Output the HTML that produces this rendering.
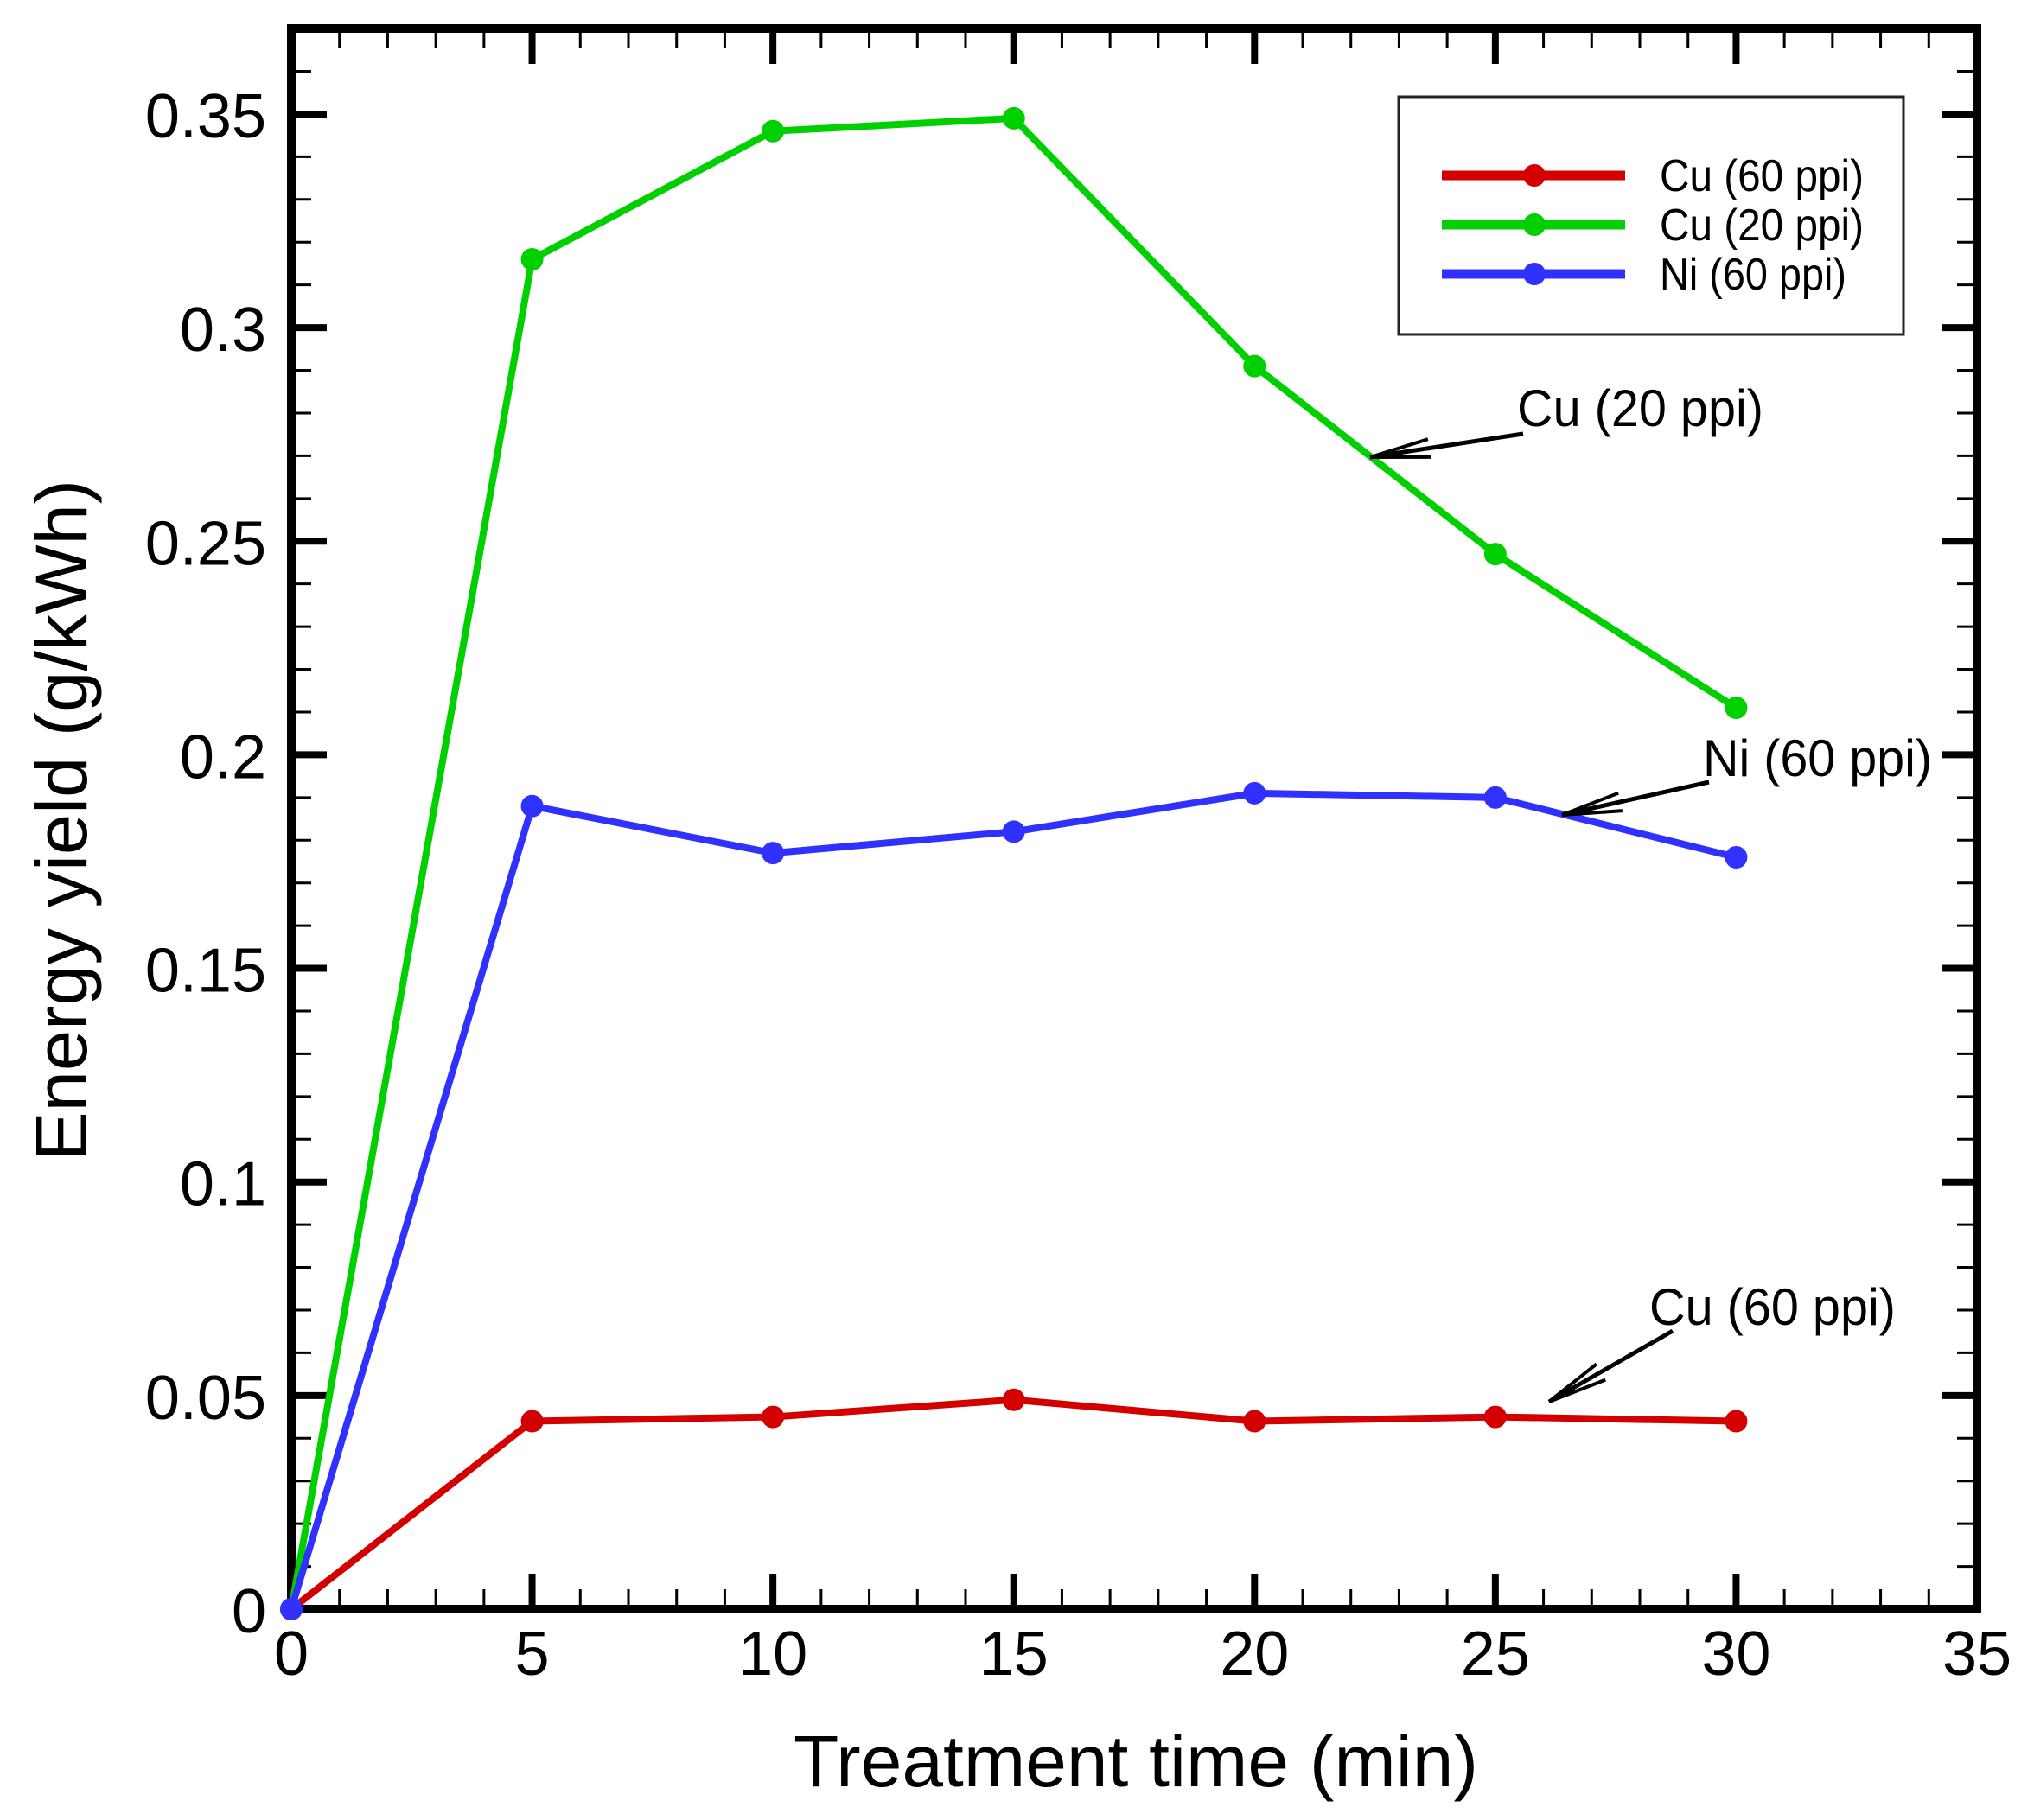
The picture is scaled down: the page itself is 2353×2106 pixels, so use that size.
<!DOCTYPE html>
<html><head><meta charset="utf-8"><style>
html,body{margin:0;padding:0;background:#fff;}
svg{display:block;}
text{font-family:"Liberation Sans",Arial,sans-serif;fill:#000;}
</style></head><body>
<svg id="chart" width="2353" height="2106" viewBox="0 0 2353 2106" xmlns="http://www.w3.org/2000/svg">
</svg>
<script>
const categories = [0, 5, 10, 15, 20, 25, 30];
const cu60 = [0, 0.044, 0.045, 0.049, 0.044, 0.045, 0.044];
const cu20 = [0, 0.316, 0.346, 0.349, 0.291, 0.247, 0.211];
const ni60 = [0, 0.188, 0.177, 0.182, 0.191, 0.190, 0.176];
const xTicks = [0, 5, 10, 15, 20, 25, 30, 35];
const yTicks = [0, 0.05, 0.1, 0.15, 0.2, 0.25, 0.3, 0.35];
const yTickLabels = ["0", "0.05", "0.1", "0.15", "0.2", "0.25", "0.3", "0.35"];

const NS = "http://www.w3.org/2000/svg";
const svg = document.getElementById('chart');
const L = 337, R = 2287, B = 1862, T = 33;
const xMax = 35;
function sx(v){ return L + (R - L) * v / xMax; }
function sy(v){ return B - 4943 * v; }
function mk(tag, attrs, parent){
  const e = document.createElementNS(NS, tag);
  for (const k in attrs) e.setAttribute(k, attrs[k]);
  (parent || svg).appendChild(e);
  return e;
}

for (let i = 1; i < 35; i++) {
  if (i % 5 === 0) continue;
  const x = sx(i);
  const t1 = mk('line', {x1:x, y1:B, x2:x, y2:B-23, stroke:'#000', 'stroke-width':3});
  
  
  const t2 = mk('line', {x1:x, y1:T, x2:x, y2:T+23, stroke:'#000', 'stroke-width':3});
  
  
}
for (let i = 1; i <= 37; i++) {
  if (i % 5 === 0) continue;
  const y = sy(i * 0.01);
  if (y < T) continue;
  const t1 = mk('line', {x1:L, y1:y, x2:L+23, y2:y, stroke:'#000', 'stroke-width':3});
  
  
  const t2 = mk('line', {x1:R, y1:y, x2:R-23, y2:y, stroke:'#000', 'stroke-width':3});
  
  
}
xTicks.forEach(v => {
  const x = sx(v);
  if (v > 0 && v < 35) {
    const a = mk('line', {x1:x, y1:B, x2:x, y2:B-41, stroke:'#000', 'stroke-width':8});
    
    
    const b = mk('line', {x1:x, y1:T, x2:x, y2:T+41, stroke:'#000', 'stroke-width':8});
    
    
  }
  const t = mk('text', {x:x, y:B+76, 'font-size':72, 'text-anchor':'middle'});
  t.textContent = String(v);
  
  
});
yTicks.forEach((v, i) => {
  const y = sy(v);
  if (v > 0) {
    const a = mk('line', {x1:L, y1:y, x2:L+41, y2:y, stroke:'#000', 'stroke-width':8});
    
    
    const b = mk('line', {x1:R, y1:y, x2:R-41, y2:y, stroke:'#000', 'stroke-width':8});
    
    
  }
  const t = mk('text', {x:308, y:y+27, 'font-size':72, 'text-anchor':'end'});
  t.textContent = yTickLabels[i];
  
  
});
const fr = mk('rect', {x:L, y:T, width:R-L, height:B-T, fill:'none', stroke:'#000', 'stroke-width':10});



function series(vals, color, name){
  const g = mk('g', {});
  
  
  const pts = vals.map((v, i) => sx(categories[i]) + ',' + sy(v)).join(' ');
  const pl = mk('polyline', {points:pts, fill:'none', stroke:color, 'stroke-width':8, 'stroke-linejoin':'round'}, g);
  
  
  vals.forEach((v, i) => {
    const c = mk('circle', {cx:sx(categories[i]), cy:sy(v), r:13, fill:color}, g);
    
    
  });
}
series(cu60, '#d40000', 'series-cu-60ppi');
series(cu20, '#00d000', 'series-cu-20ppi');
series(ni60, '#3030ff', 'series-ni-60ppi');

const lg = mk('g', {});


const lb = mk('rect', {x:1618, y:112, width:584, height:275, fill:'#fff', stroke:'#222', 'stroke-width':3}, lg);


[['Cu (60 ppi)', '#d40000', 203], ['Cu (20 ppi)', '#00d000', 260], ['Ni (60 ppi)', '#3030ff', 317]].forEach(e => {
  const g = mk('g', {}, lg);
  
  
  mk('line', {x1:1668, y1:e[2], x2:1880, y2:e[2], stroke:e[1], 'stroke-width':11}, g);
  mk('circle', {cx:1775, cy:e[2], r:13, fill:e[1]}, g);
  const t = mk('text', {x:1920, y:e[2]+18, 'font-size':52}, g);
  t.textContent = e[0];
  t.setAttribute('textLength', e[0].startsWith('Ni') ? 216 : 236);
  t.setAttribute('lengthAdjust', 'spacingAndGlyphs');
});

function annot(label, tx, ty, tw, x1, y1, x2, y2, name){
  const g = mk('g', {});
  
  
  const t = mk('text', {x:tx, y:ty, 'font-size':60, textLength:tw, lengthAdjust:'spacingAndGlyphs'}, g);
  t.textContent = label;
  mk('line', {x1:x1, y1:y1, x2:x2, y2:y2, stroke:'#000', 'stroke-width':5}, g);
  const ang = Math.atan2(y1 - y2, x1 - x2);
  const len = 70, spread = 0.15;
  [ang + spread, ang - spread].forEach(a => {
    mk('line', {x1:x2, y1:y2, x2:x2 + len*Math.cos(a), y2:y2 + len*Math.sin(a), stroke:'#000', 'stroke-width':4}, g);
  });
}
annot('Cu (20 ppi)', 1755, 493, 285, 1762, 502, 1585, 529, 'annotation-cu-20ppi');
annot('Ni (60 ppi)', 1970, 898, 265, 1977, 905, 1807, 943, 'annotation-ni-60ppi');
annot('Cu (60 ppi)', 1908, 1533, 285, 1935, 1540, 1792, 1622, 'annotation-cu-60ppi');

const xt = mk('text', {x:1314, y:2067, 'font-size':84, 'text-anchor':'middle', textLength:792, lengthAdjust:'spacingAndGlyphs'});
xt.textContent = 'Treatment time (min)';


const yt = mk('text', {x:0, y:0, 'font-size':84, 'text-anchor':'middle', transform:'translate(100,949) rotate(-90)', textLength:788, lengthAdjust:'spacingAndGlyphs'});
yt.textContent = 'Energy yield (g/kWh)';


</script>
</body></html>
